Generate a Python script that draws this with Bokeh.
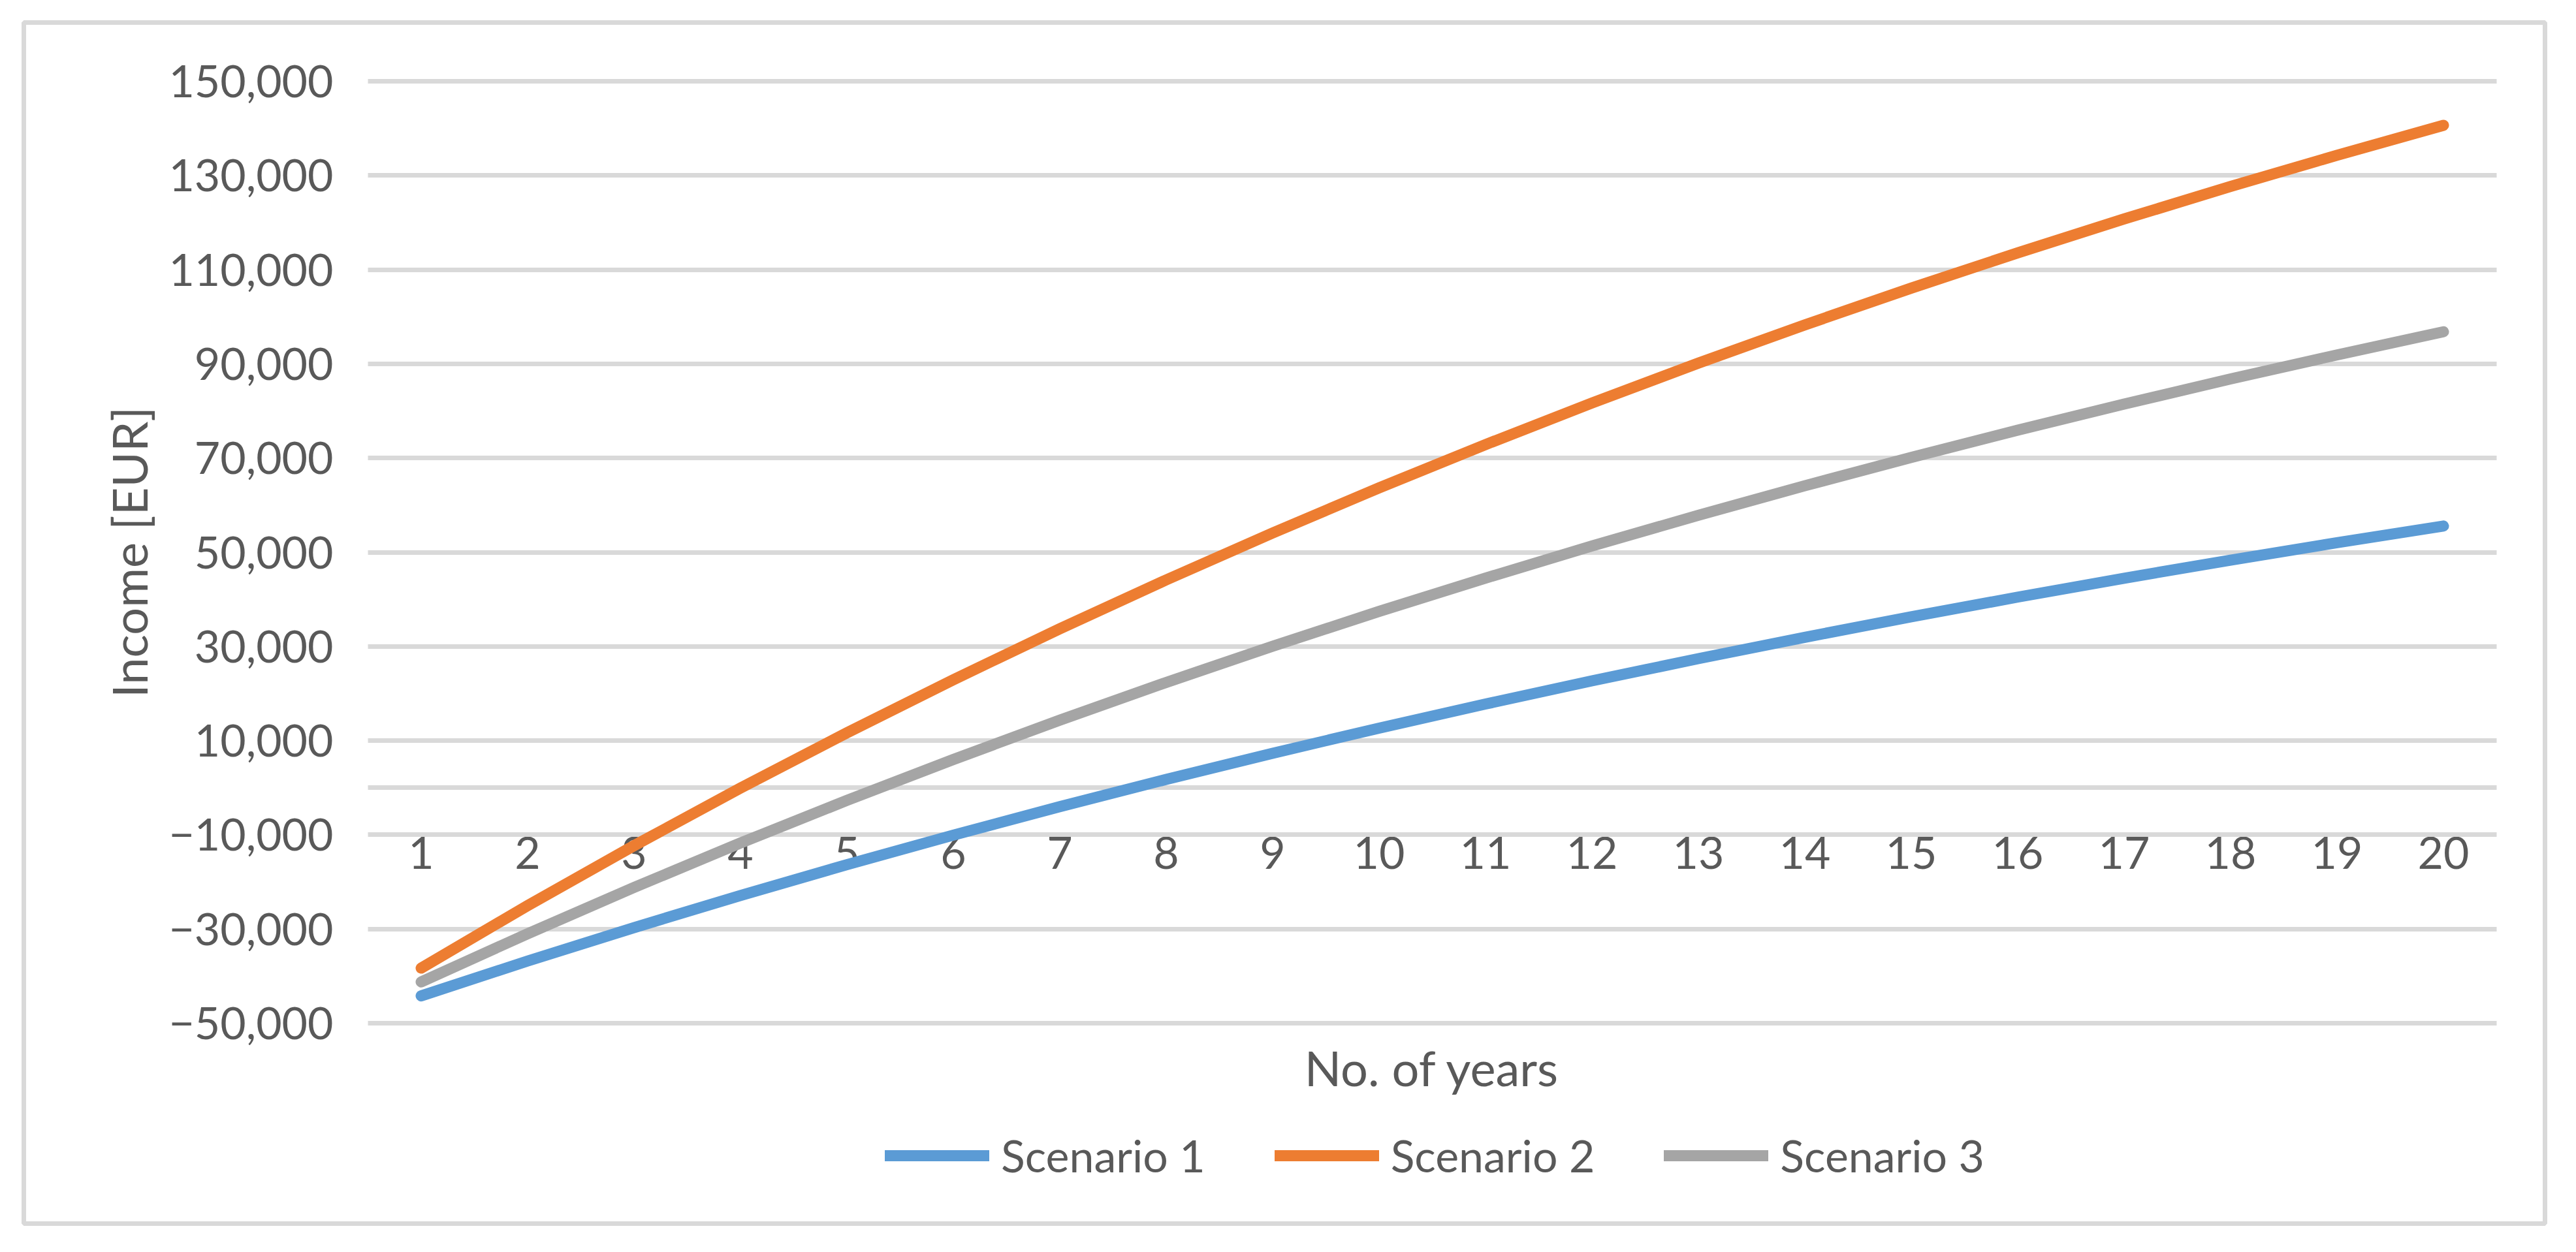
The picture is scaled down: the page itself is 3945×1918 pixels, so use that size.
from bokeh.plotting import figure
from bokeh.models import FixedTicker, Legend, LegendItem, ColumnDataSource, Grid
from bokeh.embed import file_html
from bokeh.resources import INLINE

# ---------------- data ----------------
years = list(range(1, 21))
scenario_1 = [-44200, -36800, -29700, -22890, -16340, -10060, -4030, 1760, 7320, 12650,
              17770, 22690, 27410, 31940, 36290, 40470, 44480, 48330, 52020, 55570]
scenario_2 = [-38300, -25030, -12300, -70, 11660, 22930, 33750, 44130, 54100, 63670,
              72860, 81680, 90150, 98270, 106080, 113570, 120760, 127660, 134290, 140650]
scenario_3 = [-41230, -31000, -21170, -11740, -2690, 6000, 14350, 22360, 30050, 37430,
              44510, 51320, 57850, 64120, 70140, 75920, 81460, 86790, 91900, 96810]
series_names = ["Scenario 1", "Scenario 2", "Scenario 3"]
series_colors = ["#5B9BD5", "#ED7D31", "#A5A5A5"]
x_tick_labels = [str(y) for y in years]
y_tick_values = [-50000, -30000, -10000, 10000, 30000, 50000, 70000, 90000, 110000, 130000, 150000]
y_tick_labels = ["\u221250,000", "\u221230,000", "\u221210,000", "10,000", "30,000", "50,000",
                 "70,000", "90,000", "110,000", "130,000", "150,000"]
x_title = "No. of years"
y_title = "Income [EUR]"

FONT = "Lato"
TXT = "#595959"
GRID = "#D9D9D9"

# ---------------- layout (pixels in the figure) ----------------
W, H = 3929, 1900
FR_L, FR_R, FR_T, FR_B = 36, 3897, 34, 1874      # outer chart box (drawn as frame outline)
PA_L, PA_R, PA_T, PA_B = 563, 3823, 124, 1567    # plot area inside it
X0, X1 = 0.5, 20.5
Y0, Y1 = y_tick_values[0], y_tick_values[-1]
sx = (X1 - X0) / (PA_R - PA_L)
sy = (Y1 - Y0) / (PA_B - PA_T)
x_range = (X0 - (PA_L - FR_L) * sx, X1 + (FR_R - PA_R) * sx)
y_range = (Y0 - (FR_B - PA_B) * sy, Y1 + (PA_T - FR_T) * sy)

p = figure(width=W, height=H, output_backend="svg", toolbar_location=None,
           x_range=x_range, y_range=y_range,
           min_border_left=FR_L, min_border_right=W - FR_R,
           min_border_top=FR_T, min_border_bottom=H - FR_B,
           background_fill_color="white", border_fill_color="white")
p.outline_line_color = GRID
p.outline_line_width = 7

# grid (horizontal lines across the plot area only)
p.xgrid.visible = False
yg = p.ygrid[0]
yg.ticker = FixedTicker(ticks=y_tick_values + [0])
yg.grid_line_color = GRID
yg.grid_line_width = 7
yg.bounds = (Y0, Y1)
if "cross_bounds" in Grid.properties():
    yg.cross_bounds = (X0, X1)

# y axis, anchored at the left edge of the plot area
ya = p.yaxis[0]
ya.fixed_location = X0
ya.bounds = (Y0, Y1)
ya.ticker = FixedTicker(ticks=y_tick_values)
ya.major_label_overrides = dict(zip(y_tick_values, y_tick_labels))
ya.axis_line_color = None
ya.major_tick_line_color = None
ya.minor_tick_line_color = None
ya.major_tick_out = 0
ya.major_tick_in = 0
ya.major_label_standoff = 53
ya.major_label_text_font = FONT
ya.major_label_text_font_size = "68px"
ya.major_label_text_color = TXT
ya.axis_label = y_title
ya.axis_label_text_font = FONT
ya.axis_label_text_font_size = "74px"
ya.axis_label_text_font_style = "normal"
ya.axis_label_text_color = TXT
ya.axis_label_standoff = 13

# x axis, anchored at 0
xa = p.xaxis[0]
xa.fixed_location = 0
xa.bounds = (X0, X1)
xa.level = "underlay"
xa.ticker = FixedTicker(ticks=years)
xa.major_label_overrides = dict(zip(years, x_tick_labels))
xa.axis_line_color = None
xa.major_tick_line_color = None
xa.minor_tick_line_color = None
xa.major_tick_out = 0
xa.major_tick_in = 0
xa.major_label_standoff = 75
xa.major_label_text_font = FONT
xa.major_label_text_font_size = "68px"
xa.major_label_text_color = TXT
xa.axis_label = x_title
xa.axis_label_text_font = FONT
xa.axis_label_text_font_size = "74px"
xa.axis_label_text_font_style = "normal"
xa.axis_label_text_color = TXT
xa.axis_label_standoff = 257

# lines
renderers = []
for name, vals, col in zip(series_names, [scenario_1, scenario_2, scenario_3], series_colors):
    src = ColumnDataSource(data=dict(x=years, y=vals))
    r = p.line("x", "y", source=src, line_color=col, line_width=17,
               line_cap="round", line_join="round")
    renderers.append((name, r))

legend = Legend(items=[LegendItem(label=n, renderers=[r]) for n, r in renderers],
                orientation="horizontal", location=(1319, 64),
                glyph_width=160, glyph_height=18, label_standoff=18, spacing=106,
                padding=0, margin=0, border_line_color=None, background_fill_alpha=0,
                label_text_font=FONT, label_text_font_size="68px", label_text_color=TXT)
p.add_layout(legend, "center")

open("out.html", "w").write(file_html(p, INLINE))
